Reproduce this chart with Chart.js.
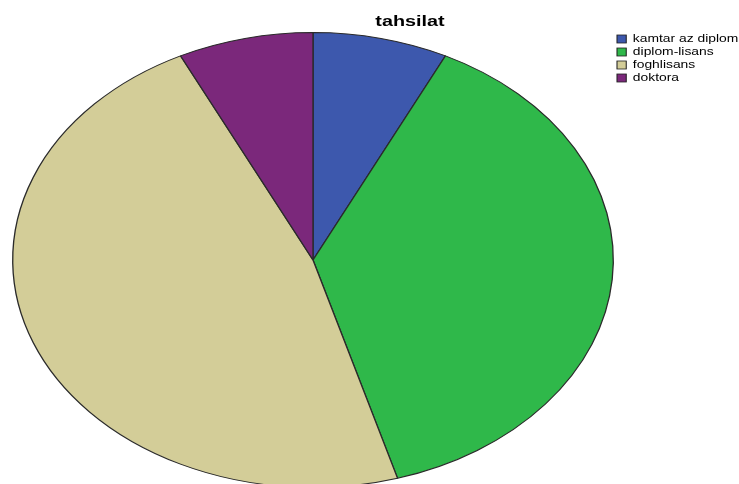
<!DOCTYPE html>
<html lang="fa">
<head>
    <meta charset="UTF-8">
    <title>tahsilat</title>
    <script src="https://cdn.jsdelivr.net/npm/chart.js"></script>
    <style>
        html, body {
            margin: 0;
            padding: 0;
            background: #fff;
            overflow: hidden;
        }
        #wrap {
            width: 739px;
            height: 500px;
            position: relative;
        }
    </style>
</head>
<body>
    <div id="wrap"><canvas id="pie"></canvas></div>

    <script>
        const categories = ['kamtar az diplom', 'diplom-lisans', 'foghlisans', 'doktora'];
        const counts = [4, 21, 26, 4];
        const colors = ['#3d58ad', '#2fb84a', '#d3cd98', '#7b287b'];
        const chartTitle = 'tahsilat';

        // the original picture is stretched sideways, so is everything here
        const stretchX = 1.32;

        const stretchPlugin = {
            id: 'stretch',
            beforeDatasetsDraw(chart) {
                const arc = chart.getDatasetMeta(0).data[0];
                const ctx = chart.ctx;
                ctx.save();
                ctx.translate(arc.x, 0);
                ctx.scale(stretchX, 1);
                ctx.translate(-arc.x, 0);
            },
            afterDatasetsDraw(chart) {
                chart.ctx.restore();
            }
        };

        const textPlugin = {
            id: 'texts',
            afterDraw(chart) {
                const ctx = chart.ctx;
                // title
                ctx.save();
                ctx.translate(410, 26);
                ctx.scale(stretchX, 1);
                ctx.font = 'bold 15px "Liberation Sans", Arial, sans-serif';
                ctx.fillStyle = '#000';
                ctx.textAlign = 'center';
                ctx.textBaseline = 'alphabetic';
                ctx.fillText(chartTitle, 0, 0);
                ctx.restore();

                // legend
                chart.data.labels.forEach((lab, i) => {
                    const y = 39 + i * 13;
                    ctx.save();
                    ctx.translate(617, y);
                    ctx.scale(stretchX, 1);
                    ctx.fillStyle = colors[i];
                    ctx.fillRect(0, -4, 7, 8);
                    ctx.strokeStyle = '#222';
                    ctx.lineWidth = 0.8;
                    ctx.strokeRect(0, -4, 7, 8);
                    ctx.font = '10.5px "Liberation Sans", Arial, sans-serif';
                    ctx.fillStyle = '#000';
                    ctx.textBaseline = 'middle';
                    ctx.fillText(lab, 12, 0.5);
                    ctx.restore();
                });
            }
        };

        new Chart(document.getElementById('pie'), {
            type: 'pie',
            data: {
                labels: categories,
                datasets: [{
                    data: counts,
                    backgroundColor: colors,
                    borderColor: '#2a2a2a',
                    borderWidth: 1
                }]
            },
            options: {
                responsive: true,
                maintainAspectRatio: false,
                animation: false,
                layout: {
                    padding: { left: 85, right: 198, top: 31, bottom: 11 }
                },
                plugins: {
                    legend: { display: false },
                    tooltip: { enabled: false },
                    title: { display: false }
                }
            },
            plugins: [stretchPlugin, textPlugin]
        });
    </script>
</body>
</html>
